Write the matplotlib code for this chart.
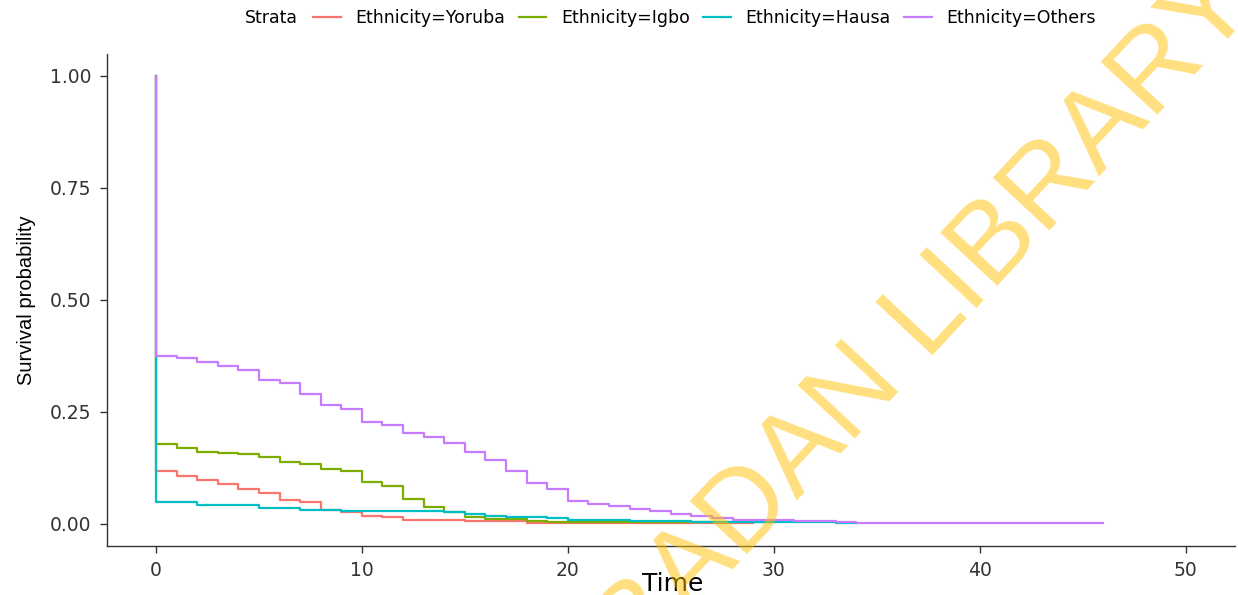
import matplotlib
matplotlib.use('Agg')
import matplotlib.pyplot as plt

# Kaplan-Meier step curves (time, survival)
yoruba_t = [0, 0, 1, 2, 3, 4, 5, 6, 7, 8, 9, 10, 11, 12, 13, 15, 18, 29]
yoruba_s = [1.0, 0.117, 0.107, 0.097, 0.089, 0.077, 0.068, 0.052, 0.049, 0.030,
            0.027, 0.018, 0.014, 0.009, 0.008, 0.005, 0.002, 0.002]

igbo_t = [0, 0, 1, 2, 3, 4, 5, 6, 7, 8, 9, 10, 11, 12, 13, 14, 15, 16, 18, 19, 30]
igbo_s = [1.0, 0.178, 0.168, 0.161, 0.158, 0.156, 0.148, 0.138, 0.133, 0.122, 0.118,
          0.092, 0.085, 0.055, 0.037, 0.027, 0.015, 0.011, 0.005, 0.003, 0.003]

hausa_t = [0, 0, 2, 5, 7, 9, 14, 15, 16, 17, 19, 20, 23, 26, 33, 34]
hausa_s = [1.0, 0.048, 0.042, 0.035, 0.031, 0.029, 0.026, 0.022, 0.018, 0.015,
           0.013, 0.008, 0.005, 0.004, 0.002, 0.002]

others_t = [0, 0, 1, 2, 3, 4, 5, 6, 7, 8, 9, 10, 11, 12, 13, 14, 15, 16, 17, 18,
            19, 20, 21, 22, 23, 24, 25, 26, 27, 28, 31, 33, 34, 46]
others_s = [1.0, 0.375, 0.370, 0.360, 0.351, 0.344, 0.321, 0.314, 0.289, 0.266,
            0.256, 0.228, 0.221, 0.202, 0.193, 0.179, 0.159, 0.143, 0.117, 0.091,
            0.077, 0.050, 0.043, 0.039, 0.033, 0.029, 0.022, 0.016, 0.013, 0.008,
            0.005, 0.004, 0.002, 0.002]

labels = ['Ethnicity=Yoruba', 'Ethnicity=Igbo', 'Ethnicity=Hausa', 'Ethnicity=Others']
colors = ['#F8766D', '#7CAE00', '#00BFC4', '#C77CFF']

x_ticks = [0, 10, 20, 30, 40, 50]
y_ticks = [0.0, 0.25, 0.5, 0.75, 1.0]
y_ticklabels = ['0.00', '0.25', '0.50', '0.75', '1.00']

plt.rcParams['font.family'] = ['DejaVu Sans']

fig = plt.figure(figsize=(12.38, 5.95), dpi=100)
ax = fig.add_axes([0.0864, 0.0824, 0.9112, 0.8276])

curves = [(yoruba_t, yoruba_s), (igbo_t, igbo_s), (hausa_t, hausa_s), (others_t, others_s)]
handles = []
for (t, s), col, lab in zip(curves, colors, labels):
    h, = ax.plot(t, s, drawstyle='steps-post', color=col, linewidth=1.6, label=lab)
    handles.append(h)

ax.set_xlim(-2.38, 52.4)
ax.set_ylim(-0.05, 1.05)
ax.set_xticks(x_ticks)
ax.set_yticks(y_ticks)
ax.set_yticklabels(y_ticklabels)
for side in ['top', 'right']:
    ax.spines[side].set_visible(False)
for side in ['left', 'bottom']:
    ax.spines[side].set_color('#333333')
    ax.spines[side].set_linewidth(1.0)
ax.tick_params(axis='both', length=5, width=1, color='#333333',
               labelcolor='#333333', labelsize=13.5, pad=6)

ax.set_ylabel('Survival probability', family=['Liberation Sans', 'DejaVu Sans'],
              fontsize=14.5, color='black', labelpad=10)
fig.text(0.543, 1 - 572 / 595, 'Time', ha='center', va='top', fontsize=18, color='black')

# legend strip at the top
fig.text(245 / 1238, 0.970, 'Strata', ha='left', va='center', fontsize=12.5, color='black')
fig.legend(handles, labels, loc='center', bbox_to_anchor=(0.569, 0.970), ncol=4,
           frameon=False, fontsize=12.5, handlelength=1.6, handletextpad=0.85,
           columnspacing=0.75, borderpad=0, borderaxespad=0)

# watermark
fig.text(0.739, 0.444, 'IBADAN LIBRARY', ha='center', va='center', rotation=47,
         rotation_mode='anchor', fontsize=82, color='#FFC000', alpha=0.5,
         family=['Liberation Sans', 'DejaVu Sans'], zorder=10)

fig.savefig('out.png', dpi=100)
